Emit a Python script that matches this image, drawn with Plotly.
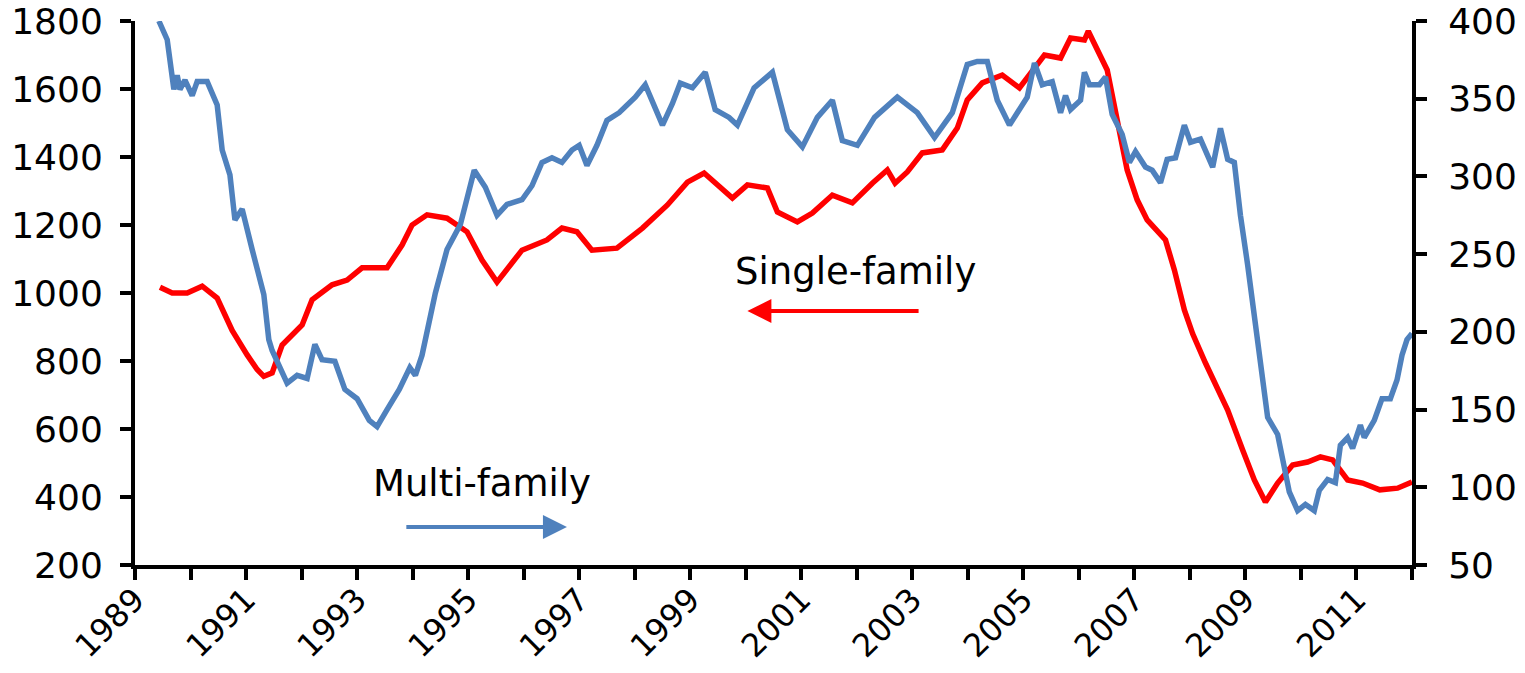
import plotly.graph_objects as go

# single-family starts (left axis, thousands, annual rate)
sf_year = [1989.45, 1989.67, 1989.94, 1990.21, 1990.48, 1990.75, 1991.02, 1991.20, 1991.32, 1991.47,
           1991.65, 1992.01, 1992.19, 1992.55, 1992.82, 1993.09, 1993.54, 1993.81, 1993.99, 1994.26,
           1994.62, 1994.98, 1995.25, 1995.52, 1995.97, 1996.42, 1996.69, 1996.96, 1997.23, 1997.68,
           1998.14, 1998.59, 1998.95, 1999.25, 1999.76, 2000.03, 2000.39, 2000.57, 2000.93, 2001.20,
           2001.56, 2001.92, 2002.28, 2002.55, 2002.69, 2002.91, 2003.18, 2003.54, 2003.81, 2003.99,
           2004.26, 2004.62, 2004.93, 2005.16, 2005.38, 2005.67, 2005.85, 2006.10, 2006.17, 2006.51,
           2006.69, 2006.87, 2007.05, 2007.23, 2007.56, 2007.72, 2007.90, 2008.05, 2008.28, 2008.50,
           2008.68, 2008.95, 2009.16, 2009.36, 2009.58, 2009.85, 2010.12, 2010.35, 2010.57, 2010.84,
           2011.11, 2011.42, 2011.74, 2012.00]
sf_val = [1017, 1000, 1000, 1020, 985, 890, 818, 775, 755, 765,
          847, 906, 980, 1024, 1038, 1074, 1074, 1141, 1200, 1230,
          1220, 1180, 1097, 1032, 1126, 1156, 1191, 1180, 1126, 1132,
          1191, 1259, 1326, 1353, 1279, 1318, 1309, 1238, 1209, 1235,
          1288, 1265, 1323, 1362, 1323, 1356, 1412, 1421, 1485, 1568,
          1618, 1641, 1603, 1656, 1700, 1691, 1750, 1744, 1770, 1656,
          1509, 1362, 1274, 1215, 1156, 1068, 950, 880, 794, 715,
          656, 538, 450, 385, 441, 494, 503, 518, 509, 450,
          441, 421, 426, 444]

# multi-family starts (right axis)
mf_year = [1989.43, 1989.58, 1989.70, 1989.76, 1989.81, 1989.90, 1990.03, 1990.12, 1990.30, 1990.48,
           1990.57, 1990.71, 1990.80, 1990.93, 1991.11, 1991.32, 1991.41, 1991.47, 1991.74, 1991.92,
           1992.10, 1992.24, 1992.37, 1992.60, 1992.78, 1993.00, 1993.22, 1993.36, 1993.54, 1993.76,
           1993.95, 1994.05, 1994.17, 1994.41, 1994.62, 1994.86, 1995.11, 1995.31, 1995.52, 1995.70,
           1995.97, 1996.15, 1996.33, 1996.51, 1996.69, 1996.87, 1997.00, 1997.14, 1997.32, 1997.50,
           1997.72, 1998.01, 1998.19, 1998.50, 1998.68, 1998.82, 1999.04, 1999.27, 1999.45, 1999.70,
           1999.85, 2000.15, 2000.48, 2000.75, 2001.02, 2001.29, 2001.56, 2001.74, 2002.01, 2002.32,
           2002.73, 2003.09, 2003.40, 2003.72, 2003.99, 2004.17, 2004.35, 2004.53, 2004.75, 2004.93,
           2005.07, 2005.20, 2005.34, 2005.52, 2005.67, 2005.76, 2005.85, 2006.03, 2006.10, 2006.19,
           2006.37, 2006.48, 2006.60, 2006.78, 2006.91, 2007.02, 2007.20, 2007.32, 2007.47, 2007.59,
           2007.74, 2007.90, 2008.01, 2008.19, 2008.41, 2008.55, 2008.68, 2008.80, 2008.91, 2009.04,
           2009.16, 2009.27, 2009.40, 2009.58, 2009.67, 2009.79, 2009.94, 2010.08, 2010.24, 2010.33,
           2010.48, 2010.62, 2010.71, 2010.84, 2010.93, 2011.07, 2011.14, 2011.32, 2011.46, 2011.61,
           2011.73, 2011.82, 2011.91, 2012.00]
mf_val = [400, 388, 356, 365, 356, 362, 352, 361, 361, 346,
          317, 301, 272, 279, 253, 224, 195, 188, 167, 172,
          170, 192, 182, 181, 163, 157, 143, 139, 150, 163,
          177, 172, 185, 225, 253, 269, 304, 293, 275, 282,
          285, 294, 309, 312, 309, 317, 320, 307, 320, 336,
          341, 351, 359, 333, 347, 360, 357, 367, 343, 338,
          333, 357, 367, 330, 319, 338, 349, 323, 320, 338,
          351, 341, 325, 341, 372, 374, 374, 349, 333, 343,
          351, 373, 359, 361, 341, 352, 343, 349, 367, 359,
          359, 364, 340, 327, 309, 316, 306, 304, 296, 311,
          312, 333, 322, 324, 306, 331, 311, 309, 275, 243,
          211, 184, 145, 134, 117, 97, 85, 89, 85, 98,
          105, 103, 127, 132, 125, 140, 132, 143, 157, 157,
          169, 185, 195, 199]

year_labels = ["1989", "1991", "1993", "1995", "1997", "1999", "2001", "2003", "2005", "2007", "2009", "2011"]

font = "DejaVu Sans"

fig = go.Figure()
fig.add_trace(go.Scatter(x=sf_year, y=sf_val, mode="lines", name="Single-family",
                         line=dict(color="#FF0000", width=5.5), yaxis="y"))
fig.add_trace(go.Scatter(x=mf_year, y=mf_val, mode="lines", name="Multi-family",
                         line=dict(color="#4F81BD", width=5.5), yaxis="y2"))

axis_style = dict(showline=True, linecolor="black", linewidth=4, ticks="outside",
                  ticklen=11, tickwidth=4, tickcolor="black", showgrid=False, zeroline=False,
                  automargin=False, ticklabeloverflow="allow")

# page body has an 8px margin; keep the figure small enough that no scrollbars appear
fig.update_layout(
    width=1509, height=657,
    margin=dict(l=127, r=105, t=13, b=100),
    paper_bgcolor="white", plot_bgcolor="white",
    showlegend=False,
    xaxis=dict(range=[1989, 2012], tickvals=[int(s) for s in year_labels], ticktext=year_labels,
               tickangle=-45, ticklabelstandoff=-12,
               tickfont=dict(family=font, size=32, color="black"),
               minor=dict(dtick=1, tick0=1989, ticks="outside", ticklen=11, tickwidth=4, tickcolor="black"),
               **axis_style),
    yaxis=dict(range=[200, 1800], dtick=200, tick0=200, ticklabelstandoff=10,
               tickfont=dict(family=font, size=36, color="black"), **axis_style),
    yaxis2=dict(range=[50, 400], dtick=50, tick0=50, overlaying="y", side="right",
                ticklabelstandoff=14, tickfont=dict(family=font, size=36, color="black"), **axis_style),
    annotations=[
        dict(x=2001.97, y=1062, xref="x", yref="y", text="Single-family", showarrow=False,
             font=dict(family=font, size=37, color="black")),
        dict(x=2000.03, y=947, ax=2003.14, ay=947, xref="x", yref="y", axref="x", ayref="y",
             text="", showarrow=True, arrowhead=2, arrowsize=1.2, arrowwidth=4, arrowcolor="#FF0000"),
        dict(x=1995.25, y=441, xref="x", yref="y", text="Multi-family", showarrow=False,
             font=dict(family=font, size=37, color="black")),
        dict(x=1996.78, y=312, ax=1993.86, ay=312, xref="x", yref="y", axref="x", ayref="y",
             text="", showarrow=True, arrowhead=2, arrowsize=1.2, arrowwidth=4, arrowcolor="#4F81BD"),
    ],
)

fig.write_html("out.html")
